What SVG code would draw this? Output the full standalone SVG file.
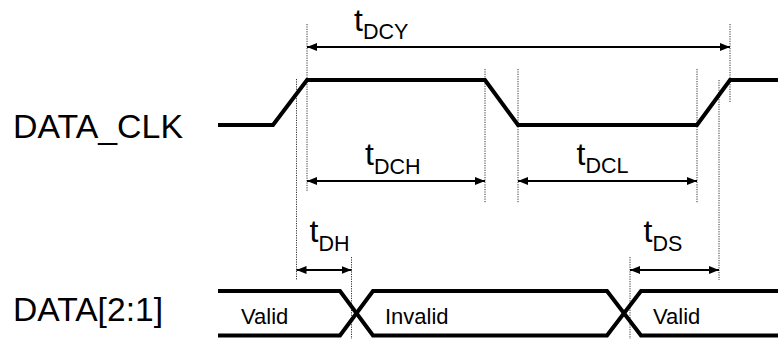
<svg xmlns="http://www.w3.org/2000/svg" width="778" height="339" viewBox="0 0 778 339">
<style>
.wave{fill:none;stroke:#000;stroke-width:4;stroke-linejoin:miter;stroke-linecap:butt}
.dot{fill:none;stroke:#333;stroke-width:1;stroke-dasharray:1.2,1.2}
.dim{fill:none;stroke:#000;stroke-width:1.8}
.sig{font-family:"Liberation Sans",Arial,sans-serif;font-size:32.5px;fill:#000}
.t{font-family:"Liberation Sans",Arial,sans-serif;font-size:32px;fill:#000}
.sub{font-size:21.5px}
.val{font-family:"Liberation Sans",Arial,sans-serif;font-size:22px;fill:#000}
</style>
<defs>
<marker id="ah" markerUnits="userSpaceOnUse" markerWidth="11" markerHeight="9" refX="10" refY="4" orient="auto-start-reverse">
<path d="M0,0 L10,4 L0,8 Z" fill="#000"/>
</marker>
</defs>
<rect width="778" height="339" fill="#fff"/>
<g id="signal-labels">
<text class="sig" x="13" y="137.5" textLength="170" lengthAdjust="spacingAndGlyphs">DATA_CLK</text>
<text class="sig" x="13" y="320.5" textLength="150" lengthAdjust="spacingAndGlyphs">DATA[2:1]</text>
</g>
<g id="guides">
<line class="dot" x1="296.5" y1="79" x2="296.5" y2="280"/>
<line class="dot" x1="307" y1="24" x2="307" y2="191"/>
<line class="dot" x1="485" y1="69" x2="485" y2="203"/>
<line class="dot" x1="518" y1="69" x2="518" y2="203"/>
<line class="dot" x1="697" y1="69" x2="697" y2="203"/>
<line class="dot" x1="719" y1="80" x2="719" y2="280"/>
<line class="dot" x1="730" y1="24" x2="730" y2="103"/>
<line class="dot" x1="351.5" y1="257" x2="351.5" y2="339"/>
<line class="dot" x1="630" y1="257" x2="630" y2="339"/>
</g>
<g id="clk-wave">
<polyline class="wave" points="218,125 273,125 307,80 485,80 518,125 697,125 730,80 778,80"/>
</g>
<g id="data-wave">
<polyline class="wave" points="218,291 340,291 373,335.5 607,335.5 641,291 778,291"/>
<polyline class="wave" points="218,335.5 340,335.5 373,291 607,291 641,335.5 778,335.5"/>
<text class="val" x="241" y="324">Valid</text>
<text class="val" x="385" y="324">Invalid</text>
<text class="val" x="653" y="324">Valid</text>
</g>
<g id="connectors">
<line class="dim" x1="307" y1="47" x2="730" y2="47" marker-start="url(#ah)" marker-end="url(#ah)"/>
<line class="dim" x1="307" y1="181" x2="485" y2="181" marker-start="url(#ah)" marker-end="url(#ah)"/>
<line class="dim" x1="518" y1="181" x2="697" y2="181" marker-start="url(#ah)" marker-end="url(#ah)"/>
<line class="dim" x1="296.5" y1="270" x2="351.5" y2="270" marker-start="url(#ah)" marker-end="url(#ah)"/>
<line class="dim" x1="630" y1="270" x2="719" y2="270" marker-start="url(#ah)" marker-end="url(#ah)"/>
</g>
<g id="label-tDCY"><text class="t" x="354" y="31">t<tspan class="sub" dy="7.5">DCY</tspan></text></g>
<g id="label-tDCH"><text class="t" x="365" y="165">t<tspan class="sub" dy="8.5">DCH</tspan></text></g>
<g id="label-tDCL"><text class="t" x="576.5" y="164.5">t<tspan class="sub" dy="8.5">DCL</tspan></text></g>
<g id="label-tDH"><text class="t" x="309.5" y="242">t<tspan class="sub" dy="8.5">DH</tspan></text></g>
<g id="label-tDS"><text class="t" x="643.5" y="242">t<tspan class="sub" dy="8.5">DS</tspan></text></g>
</svg>
